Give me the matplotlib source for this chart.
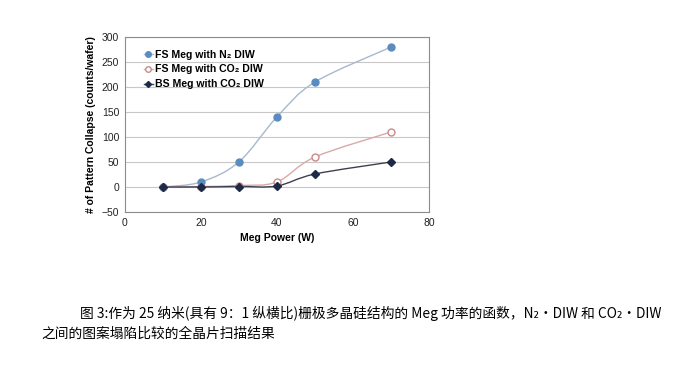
import matplotlib.pyplot as plt
import numpy as np
from matplotlib.path import Path
from matplotlib.patches import PathPatch

plt.rcParams['font.family'] = ['Noto Sans CJK SC', 'DejaVu Sans']

power = [10, 20, 30, 40, 50, 70]
fs_n2 = [0, 10, 50, 140, 210, 280]
fs_co2 = [0, 1, 3, 10, 60, 110]
bs_co2 = [0, 0, 1, 2, 26, 50]

labels = ['FS Meg with N₂ DIW', 'FS Meg with CO₂ DIW', 'BS Meg with CO₂ DIW']
caption1 = '图 3:作为 25 纳米(具有 9：1 纵横比)栅极多晶硅结构的 Meg 功率的函数，N₂·DIW 和 CO₂·DIW'
caption2 = '之间的图案塌陷比较的全晶片扫描结果'


def smooth_path(x, y, t=1 / 6):
    # Excel-style smoothed line: bezier segments through the data points
    x = np.asarray(x, float)
    y = np.asarray(y, float)
    verts = [(x[0], y[0])]
    codes = [Path.MOVETO]
    n = len(x)
    for i in range(n - 1):
        p0 = (x[max(i - 1, 0)], y[max(i - 1, 0)])
        p1 = (x[i], y[i])
        p2 = (x[i + 1], y[i + 1])
        p3 = (x[min(i + 2, n - 1)], y[min(i + 2, n - 1)])
        c1 = (p1[0] + (p2[0] - p0[0]) * t, p1[1] + (p2[1] - p0[1]) * t)
        c2 = (p2[0] - (p3[0] - p1[0]) * t, p2[1] - (p3[1] - p1[1]) * t)
        verts += [c1, c2, p2]
        codes += [Path.CURVE4] * 3
    return Path(verts, codes)


fig = plt.figure(figsize=(6.93, 3.69), dpi=100)
ax = fig.add_axes([0.180, 0.4255, 0.439, 0.474])

# (values, line colour, marker, size, face, edge)
series = [
    (fs_n2, '#a9b8cc', 'o', 5, '#5b8cc0', '#5b8cc0'),
    (fs_co2, '#d9a9a9', 'o', 5, 'white', '#c98a8a'),
    (bs_co2, '#3c4150', 'D', 3.8, '#1c2a48', '#1c2a48'),
]
handles = []
for (vals, lc, m, ms, fc, ec), lab in zip(series, labels):
    ax.add_patch(PathPatch(smooth_path(power, vals), fill=False, ec=lc, lw=1.0, zorder=2))
    ax.plot(power, vals, ls='none', marker=m, markersize=ms, markerfacecolor=fc,
            markeredgecolor=ec, zorder=3)
    h, = ax.plot([], [], color=lc, lw=1.0, marker=m, markersize=ms * 0.8, markerfacecolor=fc,
                 markeredgecolor=ec)
    handles.append(h)

ax.set_xlim(0, 80)
ax.set_ylim(-50, 300)
ax.set_xticks([0, 20, 40, 60, 80])
ax.set_yticks(range(-50, 301, 50))
ax.yaxis.grid(True, color='#c8c8c8', lw=0.8)
ax.set_axisbelow(True)
for s in ax.spines.values():
    s.set_color('#8c8c8c')
    s.set_linewidth(0.8)
ax.tick_params(labelsize=7.5, length=0, pad=4, colors='#222222')
for t in ax.get_xticklabels() + ax.get_yticklabels():
    t.set_family('Liberation Sans')
ax.set_xlabel('Meg Power (W)', fontsize=7.5, fontweight='bold', family='Liberation Sans',
              labelpad=4)
ax.set_ylabel('# of Pattern Collapse (counts/wafer)', fontsize=7.5, fontweight='bold',
              family='Liberation Sans', labelpad=4)

leg = ax.legend(handles, labels, loc='upper left', bbox_to_anchor=(0.045, 0.958), frameon=False,
                prop={'size': 7.6, 'weight': 'bold', 'family': ['Liberation Sans', 'DejaVu Sans']},
                borderpad=0, handlelength=0.9, handletextpad=0.2, labelspacing=0.45)

fig.text(80 / 693, 1 - 313 / 369, caption1, fontsize=9.9, va='center', ha='left')
fig.text(41 / 693, 1 - 334 / 369, caption2, fontsize=9.9, va='center', ha='left')

fig.savefig('out.png', dpi=100)
